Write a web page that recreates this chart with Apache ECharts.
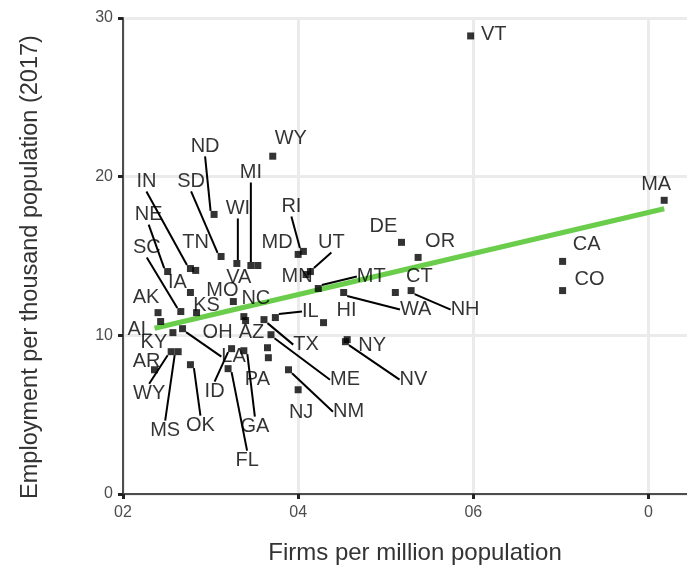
<!DOCTYPE html>
<html>
<head>
<meta charset="utf-8">
<script src="https://cdn.jsdelivr.net/npm/echarts@6/dist/echarts.min.js"></script>
<style>
  html, body { margin: 0; padding: 0; background: #fff; }
  #box { width: 687px; height: 567px; }
</style>
</head>
<body>
<div id="box"></div>
<script>
// state labels (the lower "WY" is written that way in the source picture)
var states = ['VT', 'WY', 'ND', 'MA', 'CA', 'CO', 'DE', 'OR', 'CT', 'NH',
  'WA', 'MT', 'HI', 'UT', 'MN', 'RI', 'MD', 'MI', 'VA', 'WI',
  'SD', 'IN', 'TN', 'NE', 'SC', 'IA', 'KS', 'MO', 'AK', 'AL',
  'KY', 'LA', 'OH', 'NC', 'TX', 'IL', 'AZ', 'PA', 'ID', 'GA',
  'FL', 'ME', 'NM', 'NJ', 'NY', 'NV', 'WY', 'MS', 'AR', 'OK'];
// firms per million population
var firms = [5.97, 3.71, 3.04, 8.18, 7.02, 7.02, 5.18, 5.37, 5.11, 5.29,
  4.52, 4.23, 4.29, 4.14, 4.09, 4.06, 4.00, 3.46, 3.54, 3.30,
  3.12, 2.77, 2.83, 2.51, 2.66, 2.77, 2.84, 3.26, 2.40, 2.43,
  2.57, 2.68, 3.40, 3.38, 3.61, 3.74, 3.65, 3.66, 3.24, 3.38,
  3.20, 3.69, 3.89, 4.00, 4.56, 4.54, 2.55, 2.63, 2.36, 2.77];
// employment per thousand population (2017)
var employment = [28.87, 21.29, 17.62, 18.51, 14.66, 12.82, 15.86, 14.91, 12.70, 12.82,
  12.70, 12.95, 10.80, 14.02, 13.83, 15.29, 15.10, 14.40, 14.40, 14.53,
  14.97, 14.21, 14.09, 14.02, 11.50, 12.70, 11.43, 12.13, 11.43, 10.87,
  10.17, 10.42, 10.93, 11.18, 10.99, 11.12, 9.22, 8.59, 9.16, 9.03,
  7.90, 10.04, 7.83, 6.57, 9.73, 9.60, 8.97, 8.97, 7.83, 8.15];
// fitted line end points
var fitX = [2.36, 8.18];
var fitY = [10.45, 17.98];
// axis ticks
var xTicks = [2, 4, 6, 8];
var xTickLabels = ['02', '04', '06', '0'];
var yTicks = [0, 10, 20, 30];

// label placement in pixels (dx, dy, leader line), same order as states
var labelPlace = [
  [23, -1, 0], [18, -18, 0], [-9, -68, 1], [-8, -16, 0], [24, -17, 0], [27, -11, 0], [-18, -16, 0], [22, -16, 0], [24, -16, 0], [54, 19, 1],
  [72, 17, 1], [53, -12, 1], [23, -12, 0], [21, -29, 1], [-9, 2, 0], [-12, -45, 1], [-21, -12, 0], [0, -93, 1], [-19, 12, 0], [1, -55, 1],
  [-30, -75, 1], [-44, -87, 1], [0, -28, 0], [-19, -57, 1], [-34, -64, 1], [-13, -10, 0], [10, -7, 0], [-11, -11, 0], [-12, -15, 0], [-21, 8, 0],
  [-19, 10, 0], [51, 28, 1], [-28, 12, 0], [12, -18, 0], [42, 25, 1], [35, -6, 1], [-16, -15, 0], [-11, 22, 0], [-17, 43, 1], [11, 76, 1],
  [19, 92, 1], [74, 45, 1], [60, 42, 1], [3, 23, 0], [25, 6, 0], [68, 38, 1], [-22, 42, 1], [-13, 79, 1], [-8, -8, 0], [10, 61, 1]
];

var myChart = echarts.init(document.getElementById('box'));

var points = states.map(function (s, i) {
  return {
    name: s,
    value: [firms[i], employment[i]],
    labelLine: { show: labelPlace[i][2] === 1 }
  };
});

var option = {
  animation: false,
  grid: {
    left: 123, top: 18, bottom: 73, right: -49,
    outerBoundsMode: 'none',
    show: true, borderColor: '#4d4d4d', borderWidth: 2, backgroundColor: 'transparent'
  },
  xAxis: {
    type: 'value', min: 2, max: 9, interval: 2,
    axisLine: { show: true, lineStyle: { color: '#4d4d4d', width: 2 } },
    axisTick: { show: true, length: 5, lineStyle: { color: '#222', width: 3 } },
    axisLabel: {
      margin: 11, color: '#4d4d4d', fontSize: 16, fontFamily: 'Liberation Sans',
      formatter: function (v) {
        var k = xTicks.indexOf(v);
        return k >= 0 ? xTickLabels[k] : '';
      }
    },
    splitLine: { show: true, lineStyle: { color: '#ebebeb', width: 3 } }
  },
  yAxis: {
    type: 'value', min: yTicks[0], max: yTicks[yTicks.length - 1], interval: 10,
    axisLine: { show: true, lineStyle: { color: '#4d4d4d', width: 2 } },
    axisTick: { show: true, length: 5, lineStyle: { color: '#222', width: 3 } },
    axisLabel: { margin: 10, color: '#4d4d4d', fontSize: 16, fontFamily: 'Liberation Sans' },
    splitLine: { show: true, lineStyle: { color: '#ebebeb', width: 3 } }
  },
  graphic: [
    {
      type: 'text', x: 31, y: 267, rotation: Math.PI / 2,
      style: {
        text: 'Employment per thousand population (2017)', fill: '#333',
        font: '23.5px "Liberation Sans"', textAlign: 'center', textVerticalAlign: 'middle'
      }
    },
    {
      type: 'text', x: 415, y: 553,
      style: {
        text: 'Firms per million population', fill: '#333',
        font: '24px "Liberation Sans"', textAlign: 'center', textVerticalAlign: 'middle'
      }
    }
  ],
  series: [
    {
      type: 'line',
      data: [[fitX[0], fitY[0]], [fitX[1], fitY[1]]],
      showSymbol: false, symbol: 'none',
      lineStyle: { color: '#6acd4b', width: 5 },
      z: 3
    },
    {
      type: 'scatter',
      data: points,
      symbol: 'rect', symbolSize: 7,
      itemStyle: { color: '#000' },
      label: {
        show: true, position: 'inside', formatter: '{b}',
        color: '#000', fontSize: 20, fontFamily: 'Liberation Sans',
        align: 'center', verticalAlign: 'middle'
      },
      labelLine: { lineStyle: { color: '#000', width: 2 } },
      labelLayout: function (p) {
        var o = labelPlace[p.dataIndex];
        return { dx: o[0], dy: o[1] };
      },
      z: 4
    }
  ]
};

myChart.setOption(option);
</script>
</body>
</html>
